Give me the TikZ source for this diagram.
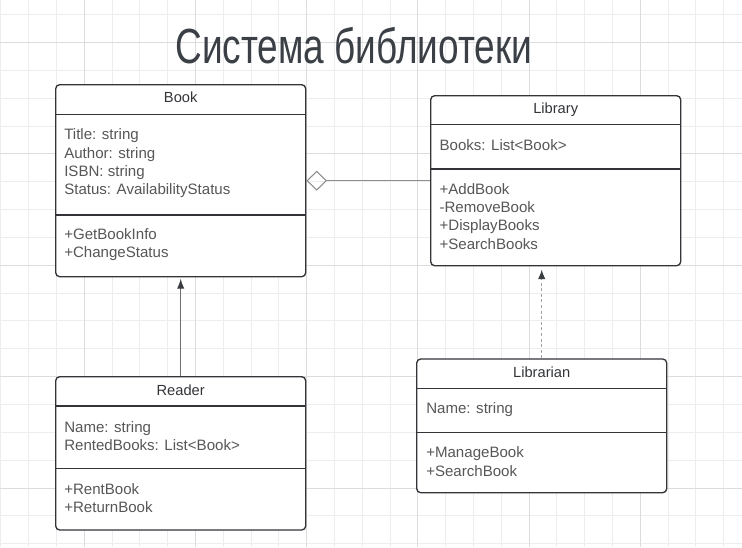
\documentclass[tikz,border=0pt]{standalone}
\usepackage{fontspec}
\setmainfont{Liberation Sans}
\usepackage{graphicx}
\usepackage{xcolor}
\usepackage{tikz}
\usetikzlibrary{arrows.meta,fit}
\definecolor{gridMinor}{HTML}{EDEDED}
\definecolor{gridMajor}{HTML}{DCDCDC}
\definecolor{umlBorder}{HTML}{323438}
\definecolor{umlText}{HTML}{575757}
\definecolor{umlLine}{HTML}{6E6E6E}
\definecolor{umlAggr}{HTML}{8E8E8E}
\definecolor{umlDash}{HTML}{A2A2A2}
\definecolor{umlHead}{HTML}{3A3D42}
\definecolor{titleGray}{HTML}{3B3F46}
\tikzset{
  grid minor/.style={draw=gridMinor, line width=0.6pt},
  grid major/.style={draw=gridMajor, line width=0.6pt},
  class box/.style={draw=umlBorder, line width=1pt, rounded corners=3pt,
    fill=white, inner sep=0pt},
  class rule/.style={draw=umlBorder, line width=1pt},
  class name/.style={font=\fontsize{11}{13}\selectfont, text=umlBorder,
    anchor=base, inner sep=0pt},
  % multi-line lists: base anchor sits on the last line
  member list/.style={font=\fontsize{11.3}{13.7}\selectfont, text=umlText,
    align=left, anchor=base west, inner sep=0pt},
  title text/.style={font=\fontsize{37}{44}\selectfont, text=titleGray,
    anchor=base, inner sep=0pt},
  inherit arc/.style={-{Latex[length=7.5pt,width=5.5pt,color=umlHead]},
    draw=umlLine, line width=0.8pt},
  realize arc/.style={-{Latex[length=7pt,width=5.5pt,color=umlHead]},
    draw=umlDash, line width=0.8pt, dash pattern=on 2.2pt off 2pt},
  aggregation arc/.style={{Diamond[open,length=15.5pt,width=15pt]}-,
    draw=umlAggr, line width=0.8pt}
}
\begin{document}
\begin{tikzpicture}[x=0.75pt, y=-0.75pt]
  \useasboundingbox[fill=white] (0,0) rectangle (742,547);
  % grid
  \foreach \k in {0,...,26}
    \draw[grid minor] ({0.8+27.8*\k},0) -- ++(0,547);
  \foreach \k in {0,...,19}
    \draw[grid minor] (0,{14.5+27.85*\k}) -- ++(742,0);
  \foreach \k in {0,...,6}
    \draw[grid major] ({84.2+111.2*\k},0) -- ++(0,547);
  \foreach \k in {0,...,4}
    \draw[grid major] (0,{42.3+111.4*\k}) -- ++(742,0);

  \node[title text] (title) at (353.8,63)
    {\scalebox{0.75}[1]{Система библиотеки}};

  % Book
  \node[class box, fit={(55.7,84.7) (305.7,276.7)}] (book) {};
  \draw[class rule] (55.7,114.3) -- (305.7,114.3);
  \draw[class rule] (55.7,215) -- (305.7,215);
  \node[class name] (bookname) at (180.7,102.5) {Book};
  \node[member list] (bookattr) at (64,194.6)
    {Title: string\\Author: string\\ISBN: string\\Status: AvailabilityStatus};
  \node[member list] (bookops) at (64,257.5)
    {+GetBookInfo\\+ChangeStatus};

  % Library
  \node[class box, fit={(430.7,95.7) (680.7,265.7)}] (library) {};
  \draw[class rule] (430.7,124.3) -- (680.7,124.3);
  \draw[class rule] (430.7,169) -- (680.7,169);
  \node[class name] (libname) at (555.7,113.5) {Library};
  \node[member list] (libattr) at (439.3,150.2) {Books: List<Book>};
  \node[member list] (libops) at (439.3,249)
    {+AddBook\\-RemoveBook\\+DisplayBooks\\+SearchBooks};

  % Reader
  \node[class box, fit={(55.7,376.7) (305.7,530)}] (reader) {};
  \draw[class rule] (55.7,406) -- (305.7,406);
  \draw[class rule] (55.7,468.7) -- (305.7,468.7);
  \node[class name] (readername) at (180.7,395.5) {Reader};
  \node[member list] (readerattr) at (64,450.5)
    {Name: string\\RentedBooks: List<Book>};
  \node[member list] (readerops) at (64,512.5)
    {+RentBook\\+ReturnBook};

  % Librarian
  \node[class box, fit={(416.7,359) (666.7,492.7)}] (librarian) {};
  \draw[class rule] (416.7,388.3) -- (666.7,388.3);
  \draw[class rule] (416.7,432.7) -- (666.7,432.7);
  \node[class name] (librname) at (541.7,377) {Librarian};
  \node[member list] (librattr) at (426,413.2) {Name: string};
  \node[member list] (librops) at (426,476)
    {+ManageBook\\+SearchBook};

  % relations
  \draw[aggregation arc] (book.east) -- (library.west);
  \draw[inherit arc, shorten >=1pt] (reader.north) -- (book.south);
  \draw[realize arc, shorten >=2.5pt] (librarian.north)
    -- (librarian.north |- library.south);
\end{tikzpicture}
\end{document}
